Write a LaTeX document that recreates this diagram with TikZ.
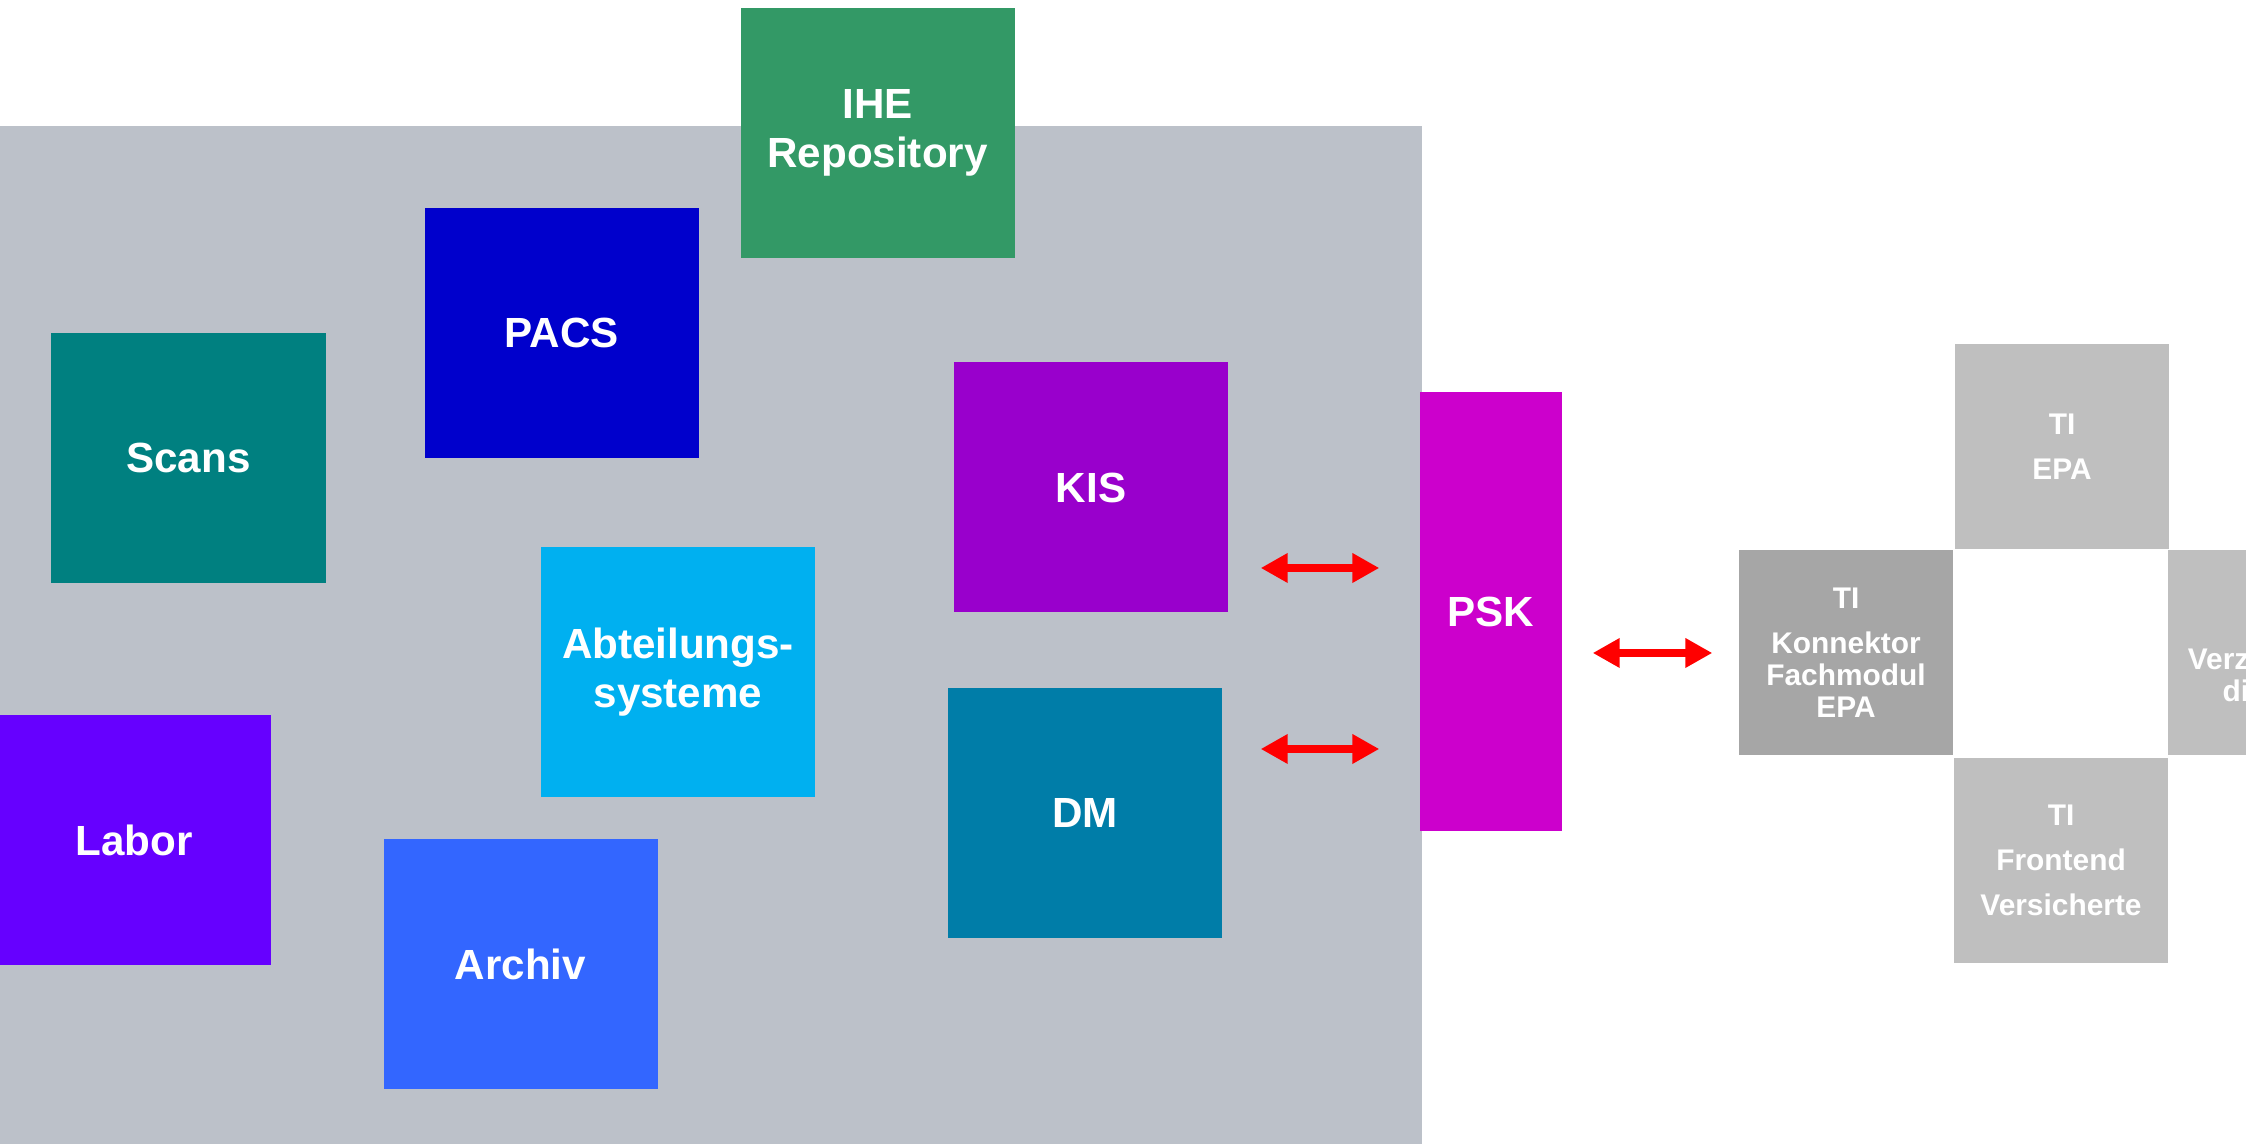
\documentclass[tikz,border=0pt]{standalone}
\usepackage{fontspec}
\setmainfont{Liberation Sans}
\usepackage{tikz}
\usetikzlibrary{arrows.meta}

\definecolor{klinikgray}{RGB}{188,193,201}
\definecolor{ihegreen}{RGB}{51,153,102}
\definecolor{pacsblue}{RGB}{0,0,204}
\definecolor{scansteal}{RGB}{0,128,128}
\definecolor{kispurple}{RGB}{153,0,204}
\definecolor{abtcyan}{RGB}{0,176,240}
\definecolor{dmblue}{RGB}{0,125,168}
\definecolor{laborviolet}{RGB}{102,0,255}
\definecolor{archivblue}{RGB}{51,102,255}
\definecolor{pskmagenta}{RGB}{204,0,204}
\definecolor{tilight}{RGB}{191,191,191}
\definecolor{tidark}{RGB}{166,166,166}

\begin{document}
\begin{tikzpicture}[
  >={Triangle[length=2.7mm,width=2.8mm]},
  sys/.style={
    rectangle, fill=#1, text=white,
    align=center, inner sep=0pt,
    minimum width=2.74cm, minimum height=2.5cm,
    font=\fontsize{12}{14}\selectfont\bfseries
  },
  ti/.style={
    rectangle, fill=#1, text=white,
    align=center, inner sep=0pt,
    minimum width=2.14cm, minimum height=2.05cm,
    font=\fontsize{8.5}{12.8}\selectfont\bfseries
  },
  tight/.style={font=\fontsize{8.5}{9.1}\selectfont\bfseries},
  biarrow/.style={<->, draw=red, line width=0.87mm},
]

\path[use as bounding box, clip] (0,0) rectangle (22.46,11.44);

% --- Klinik area ---
\fill[klinikgray] (0,0) rectangle (14.22,10.18);

% --- Systems in the hospital ---
\node[sys=ihegreen]    (IHE)    at (8.775,10.11) {IHE\\Repository};
\node[sys=pacsblue]    (PACS)   at (5.62,8.105)  {PACS};
\node[sys=scansteal]   (SCANS)  at (1.885,6.86)  {Scans};
\node[sys=kispurple]   (KIS)    at (10.91,6.565) {KIS};
\node[sys=abtcyan]     (ABT)    at (6.78,4.72)   {Abteilungs-\\systeme};
\node[sys=dmblue]      (DM)     at (10.85,3.305) {DM};
\node[sys=laborviolet] (LABOR)  at (1.34,3.04)   {Labor};
\node[sys=archivblue]  (ARCHIV) at (5.205,1.80)  {Archiv};

% --- PSK ---
\node[sys=pskmagenta, minimum width=1.42cm, minimum height=4.39cm] (PSK) at (14.91,5.325) {PSK};

% --- TI side ---
\node[ti=tilight]        (EPA) at (20.62,6.97)  {TI\\EPA};
\node[ti=tidark, tight]  (KON) at (18.46,4.91)  {TI\\[3.7pt]Konnektor\\Fachmodul\\EPA};
\node[ti=tilight]        (FE)  at (20.61,2.835) {TI\\Frontend\\Versicherte};
\node[ti=tilight, tight] (VZD) at (22.75,4.91)  {TI\\[3.7pt]Verzeichnis-\\dienste};

% --- Arrows ---
\coordinate (upY) at (0,5.76);
\coordinate (loY) at (0,3.95);

\draw[biarrow, shorten <=3.2mm, shorten >=4mm] (KIS.east |- upY) -- (PSK.west |- upY);
\draw[biarrow, shorten <=3.8mm, shorten >=4mm] (DM.east |- loY) -- (PSK.west |- loY);
\draw[biarrow, shorten <=3mm, shorten >=2.6mm] (PSK.east |- KON.west) -- (KON.west);

\end{tikzpicture}
\end{document}
